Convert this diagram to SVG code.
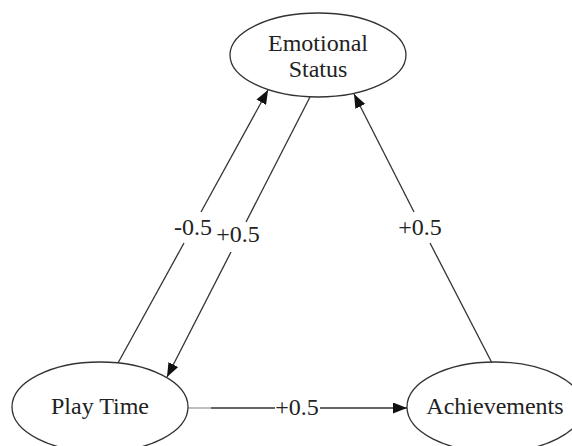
<svg xmlns="http://www.w3.org/2000/svg" width="572" height="446" viewBox="0 0 572 446">
  <style>
    .node ellipse { fill: #ffffff; stroke: #333333; stroke-width: 1.3; }
    .node text, .label { font-family: "Liberation Serif", "Times New Roman", serif; font-size: 24px; fill: #222222; text-anchor: middle; }
    .edge { stroke: #333333; stroke-width: 1.3; fill: none; }
    .edge-faint { stroke: #9a9a9a; stroke-width: 1.3; fill: none; }
  </style>
  <defs>
    <marker id="arrow" markerUnits="userSpaceOnUse" markerWidth="14" markerHeight="11" refX="14" refY="5.5" orient="auto">
      <path d="M0,0 L14,5.5 L0,11 z" fill="#111111"/>
    </marker>
  </defs>
  <rect width="572" height="446" fill="#ffffff"/>

  <!-- connectors, each broken around its weight label -->
  <g id="connectors">
    <!-- Play Time -> Emotional Status -->
    <line class="edge" x1="118" y1="363" x2="184" y2="243"/>
    <line class="edge" x1="201" y1="212" x2="268" y2="90" marker-end="url(#arrow)"/>
    <text class="label" x="193" y="235">-0.5</text>

    <!-- Emotional Status -> Play Time -->
    <line class="edge" x1="310" y1="97" x2="246" y2="222"/>
    <line class="edge" x1="231" y1="252" x2="167" y2="377" marker-end="url(#arrow)"/>
    <text class="label" x="238" y="242">+0.5</text>

    <!-- Achievements -> Emotional Status -->
    <line class="edge" x1="492" y1="363" x2="430" y2="243"/>
    <line class="edge" x1="414" y1="212" x2="354" y2="94" marker-end="url(#arrow)"/>
    <text class="label" x="420" y="235">+0.5</text>

    <!-- Play Time -> Achievements -->
    <line class="edge-faint" x1="188" y1="408" x2="211" y2="408"/>
    <line class="edge" x1="211" y1="408" x2="275" y2="408"/>
    <line class="edge" x1="320" y1="408" x2="407" y2="408" marker-end="url(#arrow)"/>
    <text class="label" x="297" y="415">+0.5</text>
  </g>

  <g id="emotional-status" class="node">
    <ellipse cx="318" cy="55" rx="88" ry="42"/>
    <text x="318" y="51">Emotional</text>
    <text x="318" y="77">Status</text>
  </g>

  <g id="play-time" class="node">
    <ellipse cx="100" cy="407" rx="88" ry="45"/>
    <text x="100" y="414">Play Time</text>
  </g>

  <g id="achievements" class="node">
    <ellipse cx="495" cy="407" rx="88" ry="45"/>
    <text x="495" y="414">Achievements</text>
  </g>
</svg>
